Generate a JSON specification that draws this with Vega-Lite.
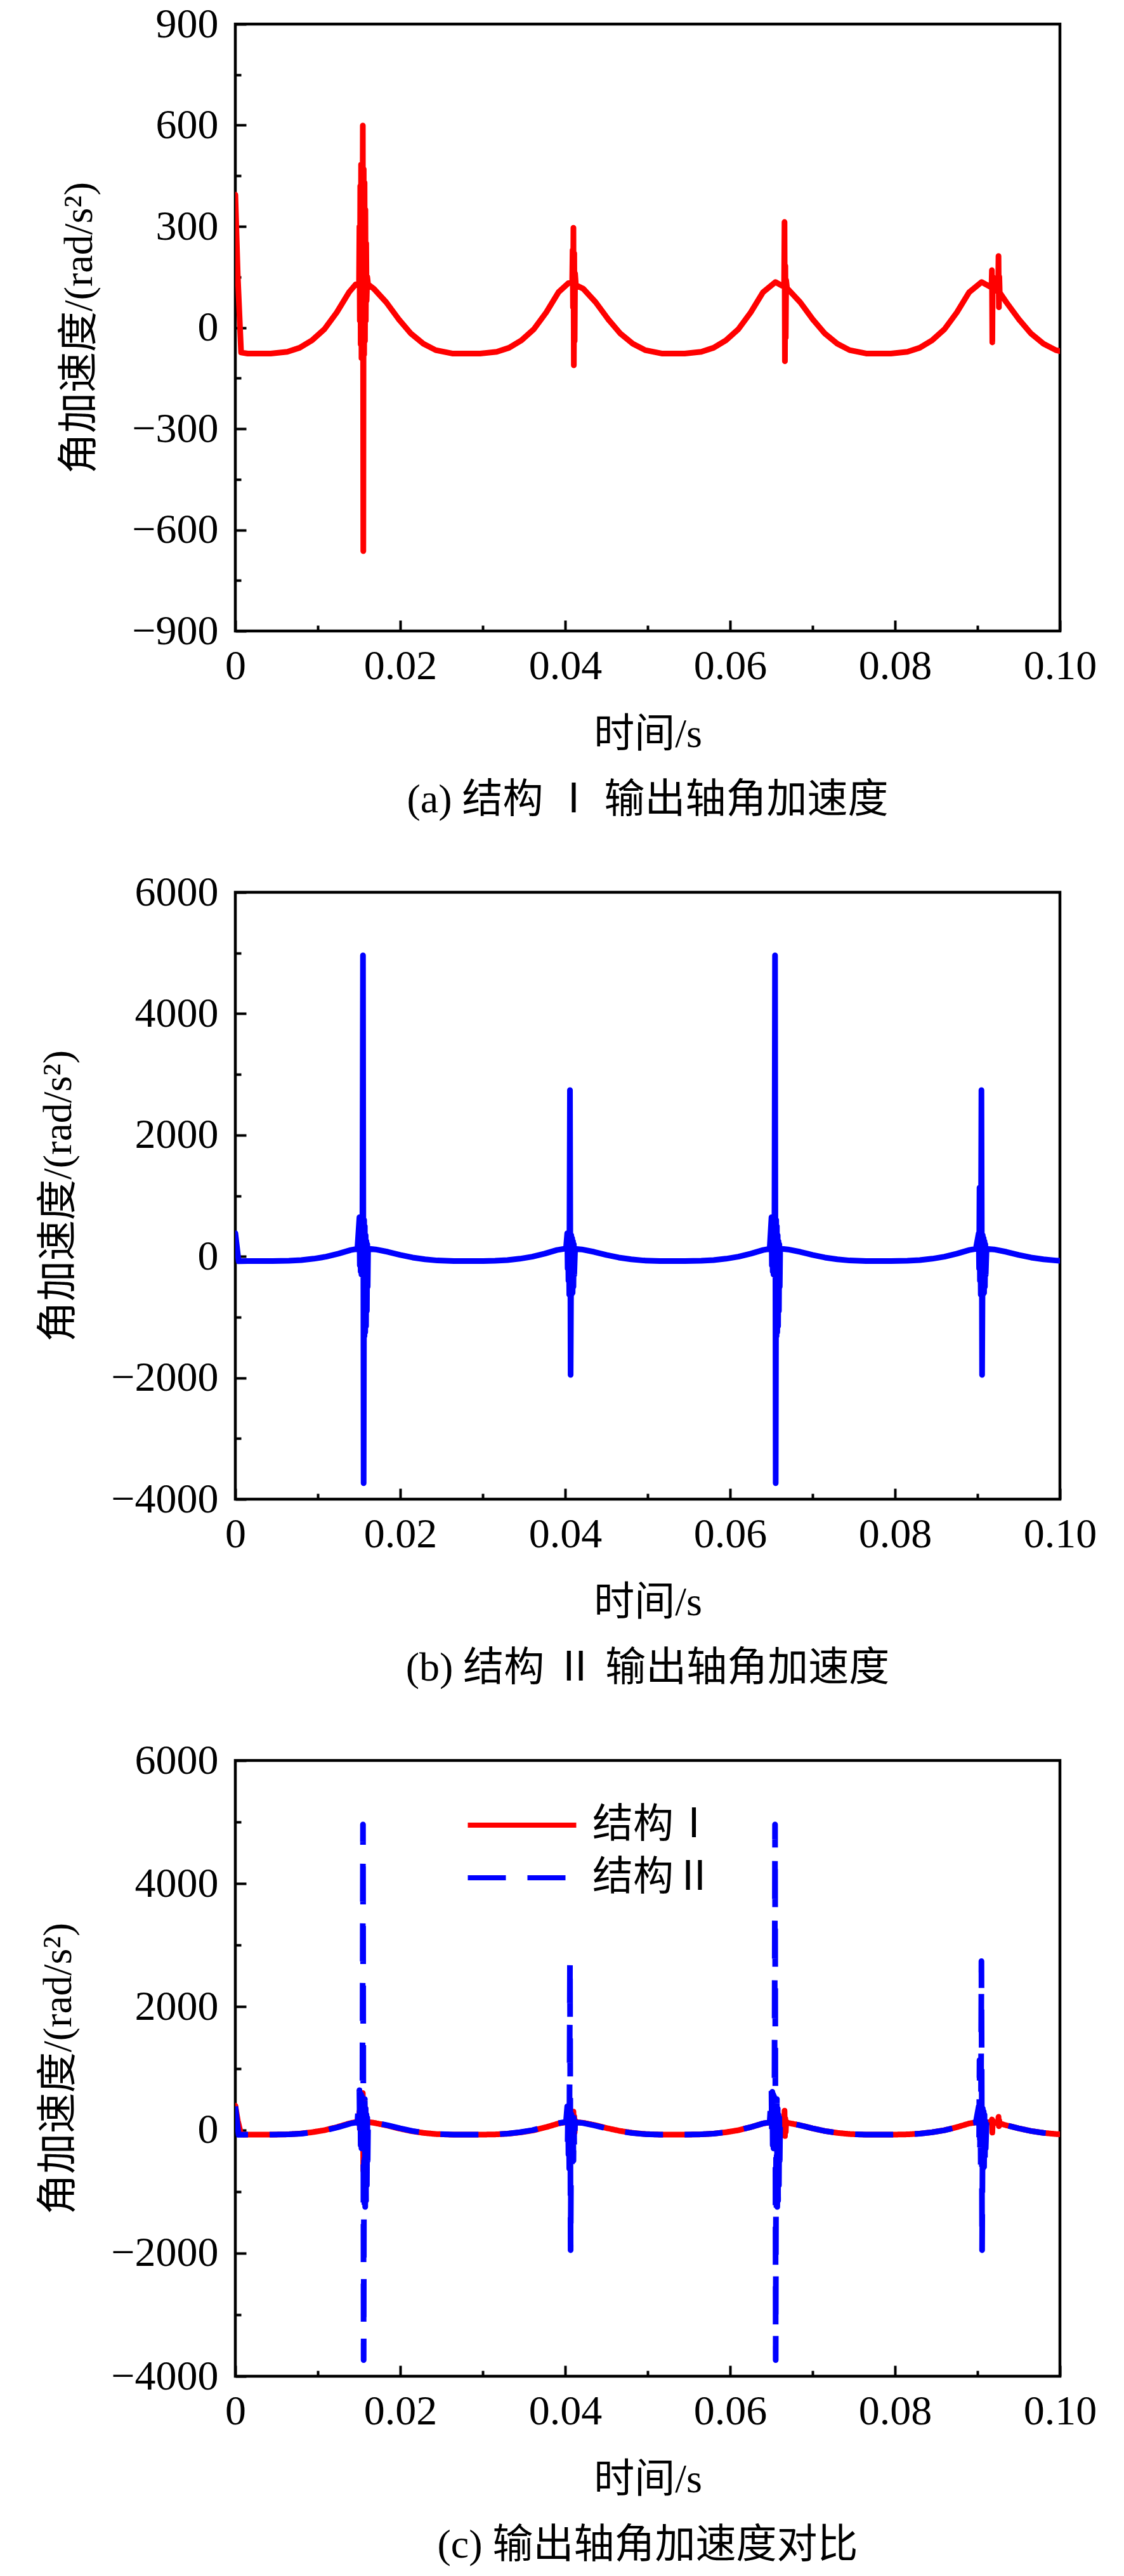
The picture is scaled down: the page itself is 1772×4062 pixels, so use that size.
{
  "$schema": "https://vega.github.io/schema/vega-lite/v6.json",
  "background": "white",
  "padding": {"left": 58, "top": 2, "right": 20, "bottom": 10},
  "bounds": "flush",
  "spacing": 412,
  "resolve": {"legend": {"color": "independent", "strokeDash": "independent"}},
  "datasets": {
    "acc": [
      {"t": 0, "v": 394, "s": "结构Ⅰ"},
      {"t": 0.0003, "v": 150, "s": "结构Ⅰ"},
      {"t": 0.0007, "v": -74, "s": "结构Ⅰ"},
      {"t": 0.0015, "v": -77, "s": "结构Ⅰ"},
      {"t": 0.0043, "v": -77, "s": "结构Ⅰ"},
      {"t": 0.0063, "v": -72, "s": "结构Ⅰ"},
      {"t": 0.0078, "v": -60, "s": "结构Ⅰ"},
      {"t": 0.0093, "v": -38, "s": "结构Ⅰ"},
      {"t": 0.0108, "v": -5, "s": "结构Ⅰ"},
      {"t": 0.0123, "v": 45, "s": "结构Ⅰ"},
      {"t": 0.0138, "v": 105, "s": "结构Ⅰ"},
      {"t": 0.0146, "v": 128, "s": "结构Ⅰ"},
      {"t": 0.015, "v": 132, "s": "结构Ⅰ"},
      {"t": 0.01505, "v": 300, "s": "结构Ⅰ"},
      {"t": 0.0151, "v": 20, "s": "结构Ⅰ"},
      {"t": 0.01515, "v": 420, "s": "结构Ⅰ"},
      {"t": 0.0152, "v": -50, "s": "结构Ⅰ"},
      {"t": 0.01525, "v": 484, "s": "结构Ⅰ"},
      {"t": 0.0153, "v": -91, "s": "结构Ⅰ"},
      {"t": 0.01535, "v": 460, "s": "结构Ⅰ"},
      {"t": 0.0154, "v": -60, "s": "结构Ⅰ"},
      {"t": 0.01546, "v": 599, "s": "结构Ⅰ"},
      {"t": 0.01552, "v": -663, "s": "结构Ⅰ"},
      {"t": 0.01557, "v": 470, "s": "结构Ⅰ"},
      {"t": 0.01562, "v": -80, "s": "结构Ⅰ"},
      {"t": 0.01567, "v": 430, "s": "结构Ⅰ"},
      {"t": 0.01572, "v": -40, "s": "结构Ⅰ"},
      {"t": 0.01577, "v": 350, "s": "结构Ⅰ"},
      {"t": 0.01582, "v": 20, "s": "结构Ⅰ"},
      {"t": 0.01587, "v": 250, "s": "结构Ⅰ"},
      {"t": 0.01592, "v": 80, "s": "结构Ⅰ"},
      {"t": 0.016, "v": 150, "s": "结构Ⅰ"},
      {"t": 0.0161, "v": 128, "s": "结构Ⅰ"},
      {"t": 0.0168, "v": 115, "s": "结构Ⅰ"},
      {"t": 0.0183, "v": 75, "s": "结构Ⅰ"},
      {"t": 0.0198, "v": 25, "s": "结构Ⅰ"},
      {"t": 0.0213, "v": -18, "s": "结构Ⅰ"},
      {"t": 0.0228, "v": -48, "s": "结构Ⅰ"},
      {"t": 0.0243, "v": -67, "s": "结构Ⅰ"},
      {"t": 0.0263, "v": -77, "s": "结构Ⅰ"},
      {"t": 0.0297, "v": -77, "s": "结构Ⅰ"},
      {"t": 0.0317, "v": -72, "s": "结构Ⅰ"},
      {"t": 0.0332, "v": -60, "s": "结构Ⅰ"},
      {"t": 0.0347, "v": -38, "s": "结构Ⅰ"},
      {"t": 0.0362, "v": -5, "s": "结构Ⅰ"},
      {"t": 0.0377, "v": 45, "s": "结构Ⅰ"},
      {"t": 0.0392, "v": 105, "s": "结构Ⅰ"},
      {"t": 0.0404, "v": 132, "s": "结构Ⅰ"},
      {"t": 0.04085, "v": 135, "s": "结构Ⅰ"},
      {"t": 0.0409, "v": 230, "s": "结构Ⅰ"},
      {"t": 0.04095, "v": 60, "s": "结构Ⅰ"},
      {"t": 0.041, "v": 296, "s": "结构Ⅰ"},
      {"t": 0.04105, "v": -112, "s": "结构Ⅰ"},
      {"t": 0.0411, "v": 220, "s": "结构Ⅰ"},
      {"t": 0.04115, "v": -40, "s": "结构Ⅰ"},
      {"t": 0.0412, "v": 160, "s": "结构Ⅰ"},
      {"t": 0.0413, "v": 126, "s": "结构Ⅰ"},
      {"t": 0.0422, "v": 115, "s": "结构Ⅰ"},
      {"t": 0.0437, "v": 75, "s": "结构Ⅰ"},
      {"t": 0.0452, "v": 25, "s": "结构Ⅰ"},
      {"t": 0.0467, "v": -18, "s": "结构Ⅰ"},
      {"t": 0.0482, "v": -48, "s": "结构Ⅰ"},
      {"t": 0.0497, "v": -67, "s": "结构Ⅰ"},
      {"t": 0.0517, "v": -77, "s": "结构Ⅰ"},
      {"t": 0.0545, "v": -77, "s": "结构Ⅰ"},
      {"t": 0.0565, "v": -72, "s": "结构Ⅰ"},
      {"t": 0.058, "v": -60, "s": "结构Ⅰ"},
      {"t": 0.0595, "v": -38, "s": "结构Ⅰ"},
      {"t": 0.061, "v": -5, "s": "结构Ⅰ"},
      {"t": 0.0625, "v": 45, "s": "结构Ⅰ"},
      {"t": 0.064, "v": 105, "s": "结构Ⅰ"},
      {"t": 0.0655, "v": 135, "s": "结构Ⅰ"},
      {"t": 0.0663, "v": 124, "s": "结构Ⅰ"},
      {"t": 0.06655, "v": 122, "s": "结构Ⅰ"},
      {"t": 0.0666, "v": 313, "s": "结构Ⅰ"},
      {"t": 0.06665, "v": -100, "s": "结构Ⅰ"},
      {"t": 0.0667, "v": 183, "s": "结构Ⅰ"},
      {"t": 0.06675, "v": -30, "s": "结构Ⅰ"},
      {"t": 0.0668, "v": 140, "s": "结构Ⅰ"},
      {"t": 0.0669, "v": 117, "s": "结构Ⅰ"},
      {"t": 0.0685, "v": 75, "s": "结构Ⅰ"},
      {"t": 0.07, "v": 25, "s": "结构Ⅰ"},
      {"t": 0.0715, "v": -18, "s": "结构Ⅰ"},
      {"t": 0.073, "v": -48, "s": "结构Ⅰ"},
      {"t": 0.0745, "v": -67, "s": "结构Ⅰ"},
      {"t": 0.0765, "v": -77, "s": "结构Ⅰ"},
      {"t": 0.0795, "v": -77, "s": "结构Ⅰ"},
      {"t": 0.0815, "v": -72, "s": "结构Ⅰ"},
      {"t": 0.083, "v": -60, "s": "结构Ⅰ"},
      {"t": 0.0845, "v": -38, "s": "结构Ⅰ"},
      {"t": 0.086, "v": -5, "s": "结构Ⅰ"},
      {"t": 0.0875, "v": 45, "s": "结构Ⅰ"},
      {"t": 0.089, "v": 105, "s": "结构Ⅰ"},
      {"t": 0.0905, "v": 135, "s": "结构Ⅰ"},
      {"t": 0.0917, "v": 119, "s": "结构Ⅰ"},
      {"t": 0.09175, "v": 170, "s": "结构Ⅰ"},
      {"t": 0.0918, "v": -44, "s": "结构Ⅰ"},
      {"t": 0.09185, "v": 150, "s": "结构Ⅰ"},
      {"t": 0.0919, "v": 117, "s": "结构Ⅰ"},
      {"t": 0.0925, "v": 106, "s": "结构Ⅰ"},
      {"t": 0.09255, "v": 212, "s": "结构Ⅰ"},
      {"t": 0.0926, "v": 60, "s": "结构Ⅰ"},
      {"t": 0.09265, "v": 150, "s": "结构Ⅰ"},
      {"t": 0.0927, "v": 104, "s": "结构Ⅰ"},
      {"t": 0.0935, "v": 75, "s": "结构Ⅰ"},
      {"t": 0.095, "v": 25, "s": "结构Ⅰ"},
      {"t": 0.0965, "v": -18, "s": "结构Ⅰ"},
      {"t": 0.098, "v": -48, "s": "结构Ⅰ"},
      {"t": 0.0995, "v": -67, "s": "结构Ⅰ"},
      {"t": 0.1, "v": -70, "s": "结构Ⅰ"},

      {"t": 0, "v": 382, "s": "结构Ⅱ"},
      {"t": 0.0004, "v": -80, "s": "结构Ⅱ"},
      {"t": 0.0015, "v": -77, "s": "结构Ⅱ"},
      {"t": 0.0045, "v": -77, "s": "结构Ⅱ"},
      {"t": 0.0065, "v": -72, "s": "结构Ⅱ"},
      {"t": 0.008, "v": -60, "s": "结构Ⅱ"},
      {"t": 0.0095, "v": -38, "s": "结构Ⅱ"},
      {"t": 0.011, "v": -5, "s": "结构Ⅱ"},
      {"t": 0.0125, "v": 45, "s": "结构Ⅱ"},
      {"t": 0.014, "v": 105, "s": "结构Ⅱ"},
      {"t": 0.0148, "v": 125, "s": "结构Ⅱ"},
      {"t": 0.01505, "v": 645, "s": "结构Ⅱ"},
      {"t": 0.0151, "v": -150, "s": "结构Ⅱ"},
      {"t": 0.01515, "v": 620, "s": "结构Ⅱ"},
      {"t": 0.0152, "v": -250, "s": "结构Ⅱ"},
      {"t": 0.01525, "v": 580, "s": "结构Ⅱ"},
      {"t": 0.0153, "v": -300, "s": "结构Ⅱ"},
      {"t": 0.01535, "v": 550, "s": "结构Ⅱ"},
      {"t": 0.0154, "v": -200, "s": "结构Ⅱ"},
      {"t": 0.01548, "v": 4960, "s": "结构Ⅱ"},
      {"t": 0.01556, "v": -3737, "s": "结构Ⅱ"},
      {"t": 0.01562, "v": 600, "s": "结构Ⅱ"},
      {"t": 0.01566, "v": -1315, "s": "结构Ⅱ"},
      {"t": 0.0157, "v": 500, "s": "结构Ⅱ"},
      {"t": 0.01575, "v": -1250, "s": "结构Ⅱ"},
      {"t": 0.0158, "v": 350, "s": "结构Ⅱ"},
      {"t": 0.01585, "v": -1150, "s": "结构Ⅱ"},
      {"t": 0.0159, "v": 250, "s": "结构Ⅱ"},
      {"t": 0.01595, "v": -900, "s": "结构Ⅱ"},
      {"t": 0.016, "v": 200, "s": "结构Ⅱ"},
      {"t": 0.01605, "v": -500, "s": "结构Ⅱ"},
      {"t": 0.0161, "v": 130, "s": "结构Ⅱ"},
      {"t": 0.0163, "v": 125, "s": "结构Ⅱ"},
      {"t": 0.017, "v": 115, "s": "结构Ⅱ"},
      {"t": 0.0185, "v": 75, "s": "结构Ⅱ"},
      {"t": 0.02, "v": 25, "s": "结构Ⅱ"},
      {"t": 0.0215, "v": -18, "s": "结构Ⅱ"},
      {"t": 0.023, "v": -48, "s": "结构Ⅱ"},
      {"t": 0.0245, "v": -67, "s": "结构Ⅱ"},
      {"t": 0.0265, "v": -77, "s": "结构Ⅱ"},
      {"t": 0.0295, "v": -77, "s": "结构Ⅱ"},
      {"t": 0.0315, "v": -72, "s": "结构Ⅱ"},
      {"t": 0.033, "v": -60, "s": "结构Ⅱ"},
      {"t": 0.0345, "v": -38, "s": "结构Ⅱ"},
      {"t": 0.036, "v": -5, "s": "结构Ⅱ"},
      {"t": 0.0375, "v": 45, "s": "结构Ⅱ"},
      {"t": 0.039, "v": 105, "s": "结构Ⅱ"},
      {"t": 0.0401, "v": 130, "s": "结构Ⅱ"},
      {"t": 0.04025, "v": 382, "s": "结构Ⅱ"},
      {"t": 0.0403, "v": -200, "s": "结构Ⅱ"},
      {"t": 0.04035, "v": 380, "s": "结构Ⅱ"},
      {"t": 0.0404, "v": -400, "s": "结构Ⅱ"},
      {"t": 0.04045, "v": 370, "s": "结构Ⅱ"},
      {"t": 0.0405, "v": -630, "s": "结构Ⅱ"},
      {"t": 0.04058, "v": 2740, "s": "结构Ⅱ"},
      {"t": 0.04066, "v": -1952, "s": "结构Ⅱ"},
      {"t": 0.04074, "v": 350, "s": "结构Ⅱ"},
      {"t": 0.0408, "v": -620, "s": "结构Ⅱ"},
      {"t": 0.04085, "v": 300, "s": "结构Ⅱ"},
      {"t": 0.0409, "v": -600, "s": "结构Ⅱ"},
      {"t": 0.04095, "v": 250, "s": "结构Ⅱ"},
      {"t": 0.041, "v": -500, "s": "结构Ⅱ"},
      {"t": 0.04105, "v": 200, "s": "结构Ⅱ"},
      {"t": 0.0411, "v": -300, "s": "结构Ⅱ"},
      {"t": 0.0412, "v": 125, "s": "结构Ⅱ"},
      {"t": 0.042, "v": 115, "s": "结构Ⅱ"},
      {"t": 0.0435, "v": 75, "s": "结构Ⅱ"},
      {"t": 0.045, "v": 25, "s": "结构Ⅱ"},
      {"t": 0.0465, "v": -18, "s": "结构Ⅱ"},
      {"t": 0.048, "v": -48, "s": "结构Ⅱ"},
      {"t": 0.0495, "v": -67, "s": "结构Ⅱ"},
      {"t": 0.0515, "v": -77, "s": "结构Ⅱ"},
      {"t": 0.0545, "v": -77, "s": "结构Ⅱ"},
      {"t": 0.0565, "v": -72, "s": "结构Ⅱ"},
      {"t": 0.058, "v": -60, "s": "结构Ⅱ"},
      {"t": 0.0595, "v": -38, "s": "结构Ⅱ"},
      {"t": 0.061, "v": -5, "s": "结构Ⅱ"},
      {"t": 0.0625, "v": 45, "s": "结构Ⅱ"},
      {"t": 0.064, "v": 105, "s": "结构Ⅱ"},
      {"t": 0.0648, "v": 125, "s": "结构Ⅱ"},
      {"t": 0.06502, "v": 645, "s": "结构Ⅱ"},
      {"t": 0.06507, "v": -150, "s": "结构Ⅱ"},
      {"t": 0.06512, "v": 620, "s": "结构Ⅱ"},
      {"t": 0.06517, "v": -250, "s": "结构Ⅱ"},
      {"t": 0.06522, "v": 580, "s": "结构Ⅱ"},
      {"t": 0.06527, "v": -300, "s": "结构Ⅱ"},
      {"t": 0.06532, "v": 550, "s": "结构Ⅱ"},
      {"t": 0.06537, "v": -200, "s": "结构Ⅱ"},
      {"t": 0.06545, "v": 4960, "s": "结构Ⅱ"},
      {"t": 0.06553, "v": -3737, "s": "结构Ⅱ"},
      {"t": 0.06559, "v": 600, "s": "结构Ⅱ"},
      {"t": 0.06563, "v": -1315, "s": "结构Ⅱ"},
      {"t": 0.06567, "v": 500, "s": "结构Ⅱ"},
      {"t": 0.06572, "v": -1250, "s": "结构Ⅱ"},
      {"t": 0.06577, "v": 350, "s": "结构Ⅱ"},
      {"t": 0.06582, "v": -1150, "s": "结构Ⅱ"},
      {"t": 0.06587, "v": 250, "s": "结构Ⅱ"},
      {"t": 0.06592, "v": -900, "s": "结构Ⅱ"},
      {"t": 0.06597, "v": 200, "s": "结构Ⅱ"},
      {"t": 0.06602, "v": -500, "s": "结构Ⅱ"},
      {"t": 0.06607, "v": 130, "s": "结构Ⅱ"},
      {"t": 0.0663, "v": 125, "s": "结构Ⅱ"},
      {"t": 0.067, "v": 115, "s": "结构Ⅱ"},
      {"t": 0.0685, "v": 75, "s": "结构Ⅱ"},
      {"t": 0.07, "v": 25, "s": "结构Ⅱ"},
      {"t": 0.0715, "v": -18, "s": "结构Ⅱ"},
      {"t": 0.073, "v": -48, "s": "结构Ⅱ"},
      {"t": 0.0745, "v": -67, "s": "结构Ⅱ"},
      {"t": 0.0765, "v": -77, "s": "结构Ⅱ"},
      {"t": 0.0795, "v": -77, "s": "结构Ⅱ"},
      {"t": 0.0815, "v": -72, "s": "结构Ⅱ"},
      {"t": 0.083, "v": -60, "s": "结构Ⅱ"},
      {"t": 0.0845, "v": -38, "s": "结构Ⅱ"},
      {"t": 0.086, "v": -5, "s": "结构Ⅱ"},
      {"t": 0.0875, "v": 45, "s": "结构Ⅱ"},
      {"t": 0.089, "v": 105, "s": "结构Ⅱ"},
      {"t": 0.0898, "v": 125, "s": "结构Ⅱ"},
      {"t": 0.09015, "v": 382, "s": "结构Ⅱ"},
      {"t": 0.0902, "v": -200, "s": "结构Ⅱ"},
      {"t": 0.09025, "v": 1134, "s": "结构Ⅱ"},
      {"t": 0.0903, "v": -400, "s": "结构Ⅱ"},
      {"t": 0.09035, "v": 370, "s": "结构Ⅱ"},
      {"t": 0.0904, "v": -630, "s": "结构Ⅱ"},
      {"t": 0.09048, "v": 2740, "s": "结构Ⅱ"},
      {"t": 0.09056, "v": -1952, "s": "结构Ⅱ"},
      {"t": 0.09064, "v": 350, "s": "结构Ⅱ"},
      {"t": 0.0907, "v": -620, "s": "结构Ⅱ"},
      {"t": 0.09075, "v": 300, "s": "结构Ⅱ"},
      {"t": 0.0908, "v": -600, "s": "结构Ⅱ"},
      {"t": 0.09085, "v": 250, "s": "结构Ⅱ"},
      {"t": 0.0909, "v": -500, "s": "结构Ⅱ"},
      {"t": 0.09095, "v": 200, "s": "结构Ⅱ"},
      {"t": 0.091, "v": -300, "s": "结构Ⅱ"},
      {"t": 0.0911, "v": 125, "s": "结构Ⅱ"},
      {"t": 0.092, "v": 115, "s": "结构Ⅱ"},
      {"t": 0.0935, "v": 75, "s": "结构Ⅱ"},
      {"t": 0.095, "v": 25, "s": "结构Ⅱ"},
      {"t": 0.0965, "v": -18, "s": "结构Ⅱ"},
      {"t": 0.098, "v": -48, "s": "结构Ⅱ"},
      {"t": 0.0995, "v": -67, "s": "结构Ⅱ"},
      {"t": 0.1, "v": -72, "s": "结构Ⅱ"}
    ]
  },
  "vconcat": [
    {
      "width": 1300,
      "height": 957,
      "data": {"name": "acc"},
      "transform": [{"filter": "datum.s == '结构Ⅰ'"}],
      "title": {"text": "(a) 结构 Ⅰ 输出轴角加速度"},
      "mark": {"type": "line", "color": "#ff0000", "strokeWidth": 9, "strokeCap": "round", "strokeJoin": "round", "clip": true},
      "encoding": {
        "x": {
          "field": "t", "type": "quantitative", "title": "时间/s",
          "scale": {"domain": [0, 0.1], "nice": false},
          "axis": {
            "values": [0, 0.01, 0.02, 0.03, 0.04, 0.05, 0.06, 0.07, 0.08, 0.09, 0.1],
            "labelExpr": "datum.value == 0 ? '0' : (round(datum.value * 100) % 2 == 0 ? format(datum.value, '.2f') : '')",
            "tickSize": {"condition": {"test": "round(datum.value * 100) % 2 == 0", "value": -17}, "value": -9}
          }
        },
        "y": {
          "field": "v", "type": "quantitative", "title": "角加速度/(rad/s²)",
          "scale": {"domain": [-900, 900], "nice": false},
          "axis": {
            "values": [-900, -750, -600, -450, -300, -150, 0, 150, 300, 450, 600, 750, 900],
            "labelExpr": "datum.value % 300 == 0 ? format(datum.value, 'd') : ''",
            "tickSize": {"condition": {"test": "datum.value % 300 == 0", "value": -17}, "value": -9}
          }
        }
      }
    },
    {
      "width": 1300,
      "height": 957,
      "data": {"name": "acc"},
      "transform": [{"filter": "datum.s == '结构Ⅱ'"}],
      "title": {"text": "(b) 结构 Ⅱ 输出轴角加速度"},
      "mark": {"type": "line", "color": "#0000ff", "strokeWidth": 9, "strokeCap": "round", "strokeJoin": "round", "clip": true},
      "encoding": {
        "x": {
          "field": "t", "type": "quantitative", "title": "时间/s",
          "scale": {"domain": [0, 0.1], "nice": false},
          "axis": {
            "values": [0, 0.01, 0.02, 0.03, 0.04, 0.05, 0.06, 0.07, 0.08, 0.09, 0.1],
            "labelExpr": "datum.value == 0 ? '0' : (round(datum.value * 100) % 2 == 0 ? format(datum.value, '.2f') : '')",
            "tickSize": {"condition": {"test": "round(datum.value * 100) % 2 == 0", "value": -17}, "value": -9}
          }
        },
        "y": {
          "field": "v", "type": "quantitative", "title": "角加速度/(rad/s²)",
          "scale": {"domain": [-4000, 6000], "nice": false},
          "axis": {
            "values": [-4000, -3000, -2000, -1000, 0, 1000, 2000, 3000, 4000, 5000, 6000],
            "labelExpr": "datum.value % 2000 == 0 ? format(datum.value, 'd') : ''",
            "tickSize": {"condition": {"test": "datum.value % 2000 == 0", "value": -17}, "value": -9}
          }
        }
      }
    },
    {
      "width": 1300,
      "height": 971,
      "data": {"name": "acc"},
      "title": {"text": "(c) 输出轴角加速度对比"},
      "encoding": {
        "x": {
          "field": "t", "type": "quantitative", "title": "时间/s",
          "scale": {"domain": [0, 0.1], "nice": false},
          "axis": {
            "values": [0, 0.01, 0.02, 0.03, 0.04, 0.05, 0.06, 0.07, 0.08, 0.09, 0.1],
            "labelExpr": "datum.value == 0 ? '0' : (round(datum.value * 100) % 2 == 0 ? format(datum.value, '.2f') : '')",
            "tickSize": {"condition": {"test": "round(datum.value * 100) % 2 == 0", "value": -17}, "value": -9}
          }
        },
        "y": {
          "field": "v", "type": "quantitative", "title": "角加速度/(rad/s²)",
          "scale": {"domain": [-4000, 6000], "nice": false},
          "axis": {
            "values": [-4000, -3000, -2000, -1000, 0, 1000, 2000, 3000, 4000, 5000, 6000],
            "labelExpr": "datum.value % 2000 == 0 ? format(datum.value, 'd') : ''",
            "tickSize": {"condition": {"test": "datum.value % 2000 == 0", "value": -17}, "value": -9}
          }
        },
        "color": {
          "field": "s", "type": "nominal",
          "scale": {"domain": ["结构Ⅰ", "结构Ⅱ"], "range": ["#ff0000", "#0000ff"]},
          "legend": {"orient": "none", "legendX": 403, "legendY": 53, "title": null}
        },
        "strokeDash": {
          "field": "s", "type": "nominal",
          "scale": {"domain": ["结构Ⅰ", "结构Ⅱ"], "range": [[1, 0], [60, 34]]},
          "legend": {"orient": "none", "legendX": 403, "legendY": 53, "title": null}
        }
      },
      "layer": [
        {
          "transform": [{"filter": "datum.s == '结构Ⅰ'"}],
          "mark": {"type": "line", "strokeWidth": 9, "strokeCap": "round", "strokeJoin": "round", "clip": true}
        },
        {
          "transform": [{"filter": "datum.s == '结构Ⅱ'"}],
          "mark": {"type": "line", "strokeWidth": 9, "strokeCap": "butt", "strokeJoin": "round", "clip": true}
        }
      ]
    }
  ],
  "config": {
    "view": {"stroke": "black", "strokeWidth": 4.5},
    "title": {
      "orient": "bottom", "anchor": "middle", "frame": "group", "offset": 40,
      "font": "'Liberation Serif', 'Times New Roman', 'Noto Sans CJK SC', serif", "fontSize": 64, "fontWeight": "normal", "color": "black"
    },
    "axis": {
      "domain": false, "grid": false,
      "tickColor": "black", "tickWidth": 4,
      "labelFont": "'Liberation Serif', 'Times New Roman', serif", "labelFontSize": 66, "labelColor": "black",
      "labelOverlap": false, "labelFlush": false, "labelBound": false,
      "titleFont": "'Liberation Serif', 'Times New Roman', 'Noto Sans CJK SC', serif", "titleFontSize": 64,
      "titleFontWeight": "normal", "titleColor": "black"
    },
    "axisX": {"labelPadding": 40, "titlePadding": 35},
    "axisY": {"labelPadding": 44, "titlePadding": 50},
    "legend": {
      "symbolType": "M-1.9,0H1.9", "symbolSize": 8100, "symbolStrokeWidth": 8,
      "labelFont": "'Liberation Serif', 'Times New Roman', 'Noto Sans CJK SC', serif", "labelFontSize": 64,
      "labelColor": "black", "labelOffset": 62, "labelLimit": 0, "rowPadding": 2, "padding": 0
    }
  }
}
